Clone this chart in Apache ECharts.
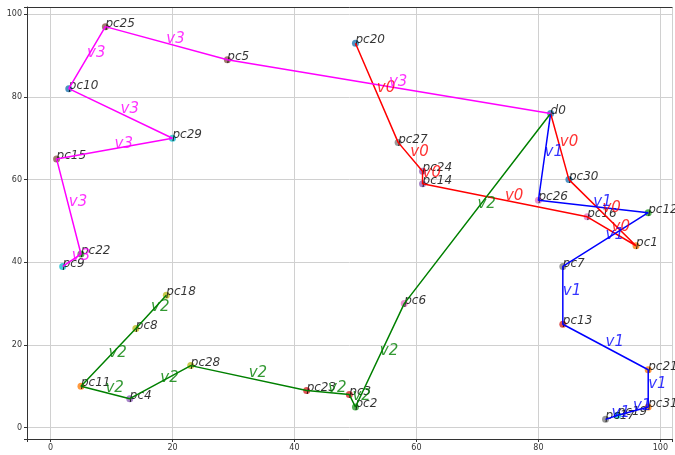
<!DOCTYPE html>
<html>
<head>
<meta charset="utf-8">
<script src="https://cdn.jsdelivr.net/npm/echarts@6/dist/echarts.min.js"></script>
<style>
  html, body { margin: 0; padding: 0; background: #fff; }
  #main { width: 675px; height: 455px; }
</style>
</head>
<body>
<div id="main"></div>
<script>
// nodes: depot d0 + customers pc1..pc31
var names = ['d0','pc1','pc2','pc3','pc4','pc5','pc6','pc7','pc8','pc9','pc10',
  'pc11','pc12','pc13','pc14','pc15','pc16','pc17','pc18','pc19','pc20',
  'pc21','pc22','pc23','pc24','pc25','pc26','pc27','pc28','pc29','pc30','pc31'];
var xs = [82,96,50,49,13,29,58,84,14,2,3, 5,98,84,61,1,88,91,19,93,50, 98,5,42,61,9,80,57,23,20,85,98];
var ys = [76,44,5,8,7,89,30,39,24,39,82, 10,52,25,59,65,51,2,32,3,93, 14,42,9,62,97,55,69,15,70,60,5];

// routes
var routeV0 = ['d0','pc30','pc1','pc16','pc14','pc24','pc27','pc20'];
var routeV1 = ['d0','pc26','pc12','pc7','pc13','pc21','pc31','pc19','pc17'];
var routeV2 = ['d0','pc6','pc2','pc3','pc23','pc28','pc4','pc11','pc8','pc18'];
var routeV3 = ['d0','pc5','pc25','pc10','pc29','pc15','pc22','pc9'];
var routeNames = ['v0','v1','v2','v3'];

var palette = ['#1f77b4','#ff7f0e','#2ca02c','#d62728','#9467bd','#8c564b','#e377c2','#7f7f7f','#bcbd22','#17becf'];
var routeColors = ['#ff0000','#0000ff','#008000','#ff00ff'];

var myChart = echarts.init(document.getElementById('main'));

function pt(n){ var i = names.indexOf(n); return [xs[i], ys[i]]; }

var series = [];
// customer points
series.push({
  type: 'scatter',
  z: 2,
  symbolSize: 7,
  data: names.map(function(n, i){
    return { value: [xs[i], ys[i]], name: n, itemStyle: { color: palette[i % 10] } };
  }),
  label: {
    show: true,
    formatter: '{b}',
    position: 'inside',
    align: 'left',
    verticalAlign: 'bottom',
    offset: [0, 3],
    color: '#000',
    fontFamily: 'DejaVu Sans',
    fontStyle: 'italic',
    fontSize: 12
  }
});

[routeV0, routeV1, routeV2, routeV3].forEach(function(r, k){
  series.push({
    type: 'line',
    z: 3,
    symbol: 'none',
    data: r.map(pt),
    lineStyle: { color: routeColors[k], width: 1.5 }
  });
  // route name at the middle of every leg
  var mids = [];
  for (var j = 0; j < r.length - 1; j++) {
    var a = pt(r[j]), b = pt(r[j + 1]);
    mids.push({ value: [(a[0] + b[0]) / 2, (a[1] + b[1]) / 2], name: routeNames[k] });
  }
  series.push({
    type: 'scatter',
    z: 4,
    symbolSize: 1,
    itemStyle: { color: 'rgba(0,0,0,0)' },
    data: mids,
    label: {
      show: true,
      formatter: '{b}',
      position: 'inside',
      align: 'left',
      verticalAlign: 'bottom',
      offset: [0, 3],
      color: routeColors[k],
      fontFamily: 'DejaVu Sans',
      fontStyle: 'italic',
      fontSize: 15
    }
  });
});

var tickLabel = {
  color: '#333',
  fontSize: 8,
  fontFamily: 'DejaVu Sans',
  formatter: function(v){ return v % 20 === 0 ? v : ''; }
};
var xMin = -3.85, xMax = 101.9;

option = {
  animation: false,
  grid: { left: 27, top: 7, right: 0, bottom: 16 },
  xAxis: [{
    type: 'value',
    min: xMin, max: xMax,
    splitNumber: 5,
    axisLine: { show: true, onZero: false, lineStyle: { color: '#333' } },
    axisTick: { show: true, length: 3, lineStyle: { color: '#333' } },
    axisLabel: Object.assign({ margin: 5 }, tickLabel),
    splitLine: { show: true, lineStyle: { color: '#d0d0d0', width: 1 } }
  }, {
    // top frame line
    type: 'value',
    position: 'top',
    min: xMin, max: xMax,
    axisLine: { show: true, onZero: false, lineStyle: { color: '#333' } },
    axisTick: { show: false },
    axisLabel: { show: false },
    splitLine: { show: false }
  }],
  yAxis: {
    type: 'value',
    min: -2.75, max: 101.75,
    splitNumber: 5,
    axisLine: { show: true, onZero: false, lineStyle: { color: '#333' } },
    axisTick: { show: true, length: 3, lineStyle: { color: '#333' } },
    axisLabel: Object.assign({ margin: 5 }, tickLabel),
    splitLine: { show: true, lineStyle: { color: '#d0d0d0', width: 1 } }
  },
  series: series
};
myChart.setOption(option);
</script>
</body>
</html>
